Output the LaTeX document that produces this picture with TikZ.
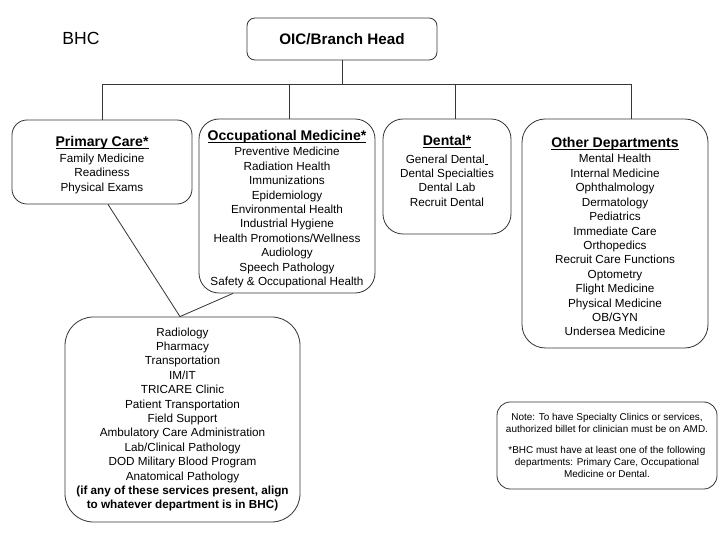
\documentclass[tikz,border=0pt]{standalone}
\usepackage{fontspec}
\setmainfont{Liberation Sans}
\usepackage{tikz}
\usetikzlibrary{positioning, calc}
\usepackage{xcolor}
\definecolor{boxline}{RGB}{55,55,55}
\newcommand{\depthead}[1]{{\fontsize{12}{14}\selectfont\bfseries\rule{0pt}{14pt}\underline{\smash{#1}}\vphantom{y}}}

\begin{document}
\begin{tikzpicture}[font=\fontsize{10}{12.3}\selectfont,
  dept/.style={draw=boxline, line width=0.7pt, rounded corners=0.6cm, align=center, inner sep=0pt},
  wire/.style={draw=boxline, line width=0.7pt}]
  \fill[white] (0,0) rectangle (21.6,16.2);
  \useasboundingbox (0,0) rectangle (21.6,16.2);
  % head of the branch
  \node (bhc) at (2.43,15.06) {\fontsize{15}{18}\selectfont BHC};
  \node[dept, rounded corners=0.24cm, minimum width=5.7cm, minimum height=1.26cm]
        (oic) at (10.26,15.03) {\fontsize{13}{15}\selectfont\bfseries OIC/Branch Head};
  % departments
  \node[dept, rounded corners=0.45cm, minimum width=5.4cm, minimum height=2.52cm]
        (primary) at (3.06,11.34)
        {\depthead{Primary Care*}\\[1pt] Family Medicine\\ Readiness\\ Physical Exams};
  \node[dept, minimum width=5.28cm, minimum height=5.22cm] (occ) at (8.61,10.02)
        {\depthead{Occupational Medicine*}\\[1pt] Preventive Medicine\\ Radiation Health\\
         Immunizations\\ Epidemiology\\ Environmental Health\\ Industrial Hygiene\\
         Health Promotions/Wellness\\ Audiology\\ Speech Pathology\\
         Safety \& Occupational Health};
  \node[dept, minimum width=3.84cm, minimum height=3.45cm] (dental) at (13.41,10.905)
        {\depthead{Dental*}\\[3pt] General Dental\underline{\hspace{3pt}}\\ Dental Specialties\\
         Dental Lab\\ Recruit Dental\\[3pt]\mbox{}};
  \node[dept, rounded corners=0.7cm, minimum width=5.58cm, minimum height=6.87cm]
        (other) at (18.45,9.195)
        {\depthead{Other Departments}\\[1pt] Mental Health\\ Internal Medicine\\ Ophthalmology\\
         Dermatology\\ Pediatrics\\ Immediate Care\\ Orthopedics\\ Recruit Care Functions\\
         Optometry\\ Flight Medicine\\ Physical Medicine\\ OB/GYN\\ Undersea Medicine};
  % shared services
  \node[dept, rounded corners=0.85cm, minimum width=7.05cm, minimum height=6.15cm]
        (support) at (5.475,3.615)
        {Radiology\\ Pharmacy\\ Transportation\\ IM/IT\\ TRICARE Clinic\\
         Patient Transportation\\ Field Support\\ Ambulatory Care Administration\\
         Lab/Clinical Pathology\\ DOD Military Blood Program\\ Anatomical Pathology\\
         \textbf{(if any of these services present, align}\\
         \textbf{to whatever department is in BHC)}};
  % note
  \node[dept, rounded corners=0.4cm, minimum width=6.6cm, minimum height=2.61cm,
        font=\fontsize{8.5}{10.6}\selectfont] (note) at (18.21,2.835)
        {Note: To have Specialty Clinics or services,\\
         authorized billet for clinician must be on AMD.\\[7pt]
         *BHC must have at least one of the following\\
         departments: Primary Care, Occupational\\ Medicine or Dental.};
  % connectors
  \coordinate (hub) at (10.26,13.68);
  \coordinate (bus1) at (3.06,13.68);
  \coordinate (bus2) at (8.67,13.68);
  \coordinate (bus3) at (13.65,13.68);
  \coordinate (bus4) at (18.93,13.68);
  \draw[wire] (oic.south) -- (hub);
  \draw[wire] (bus1) -- (bus4);
  \draw[wire] (bus1) -- (primary.north);
  \draw[wire] (bus2) -- (bus2 |- occ.north);
  \draw[wire] (bus3) -- (bus3 |- dental.north);
  \draw[wire] (bus4) -- (bus4 |- other.north);
  \draw[wire] ($(primary.south)+(0.18,0)$) -- ($(support.north)+(-0.075,0)$)
        -- ($(occ.south)+(-1.62,0)$);
\end{tikzpicture}
\end{document}
